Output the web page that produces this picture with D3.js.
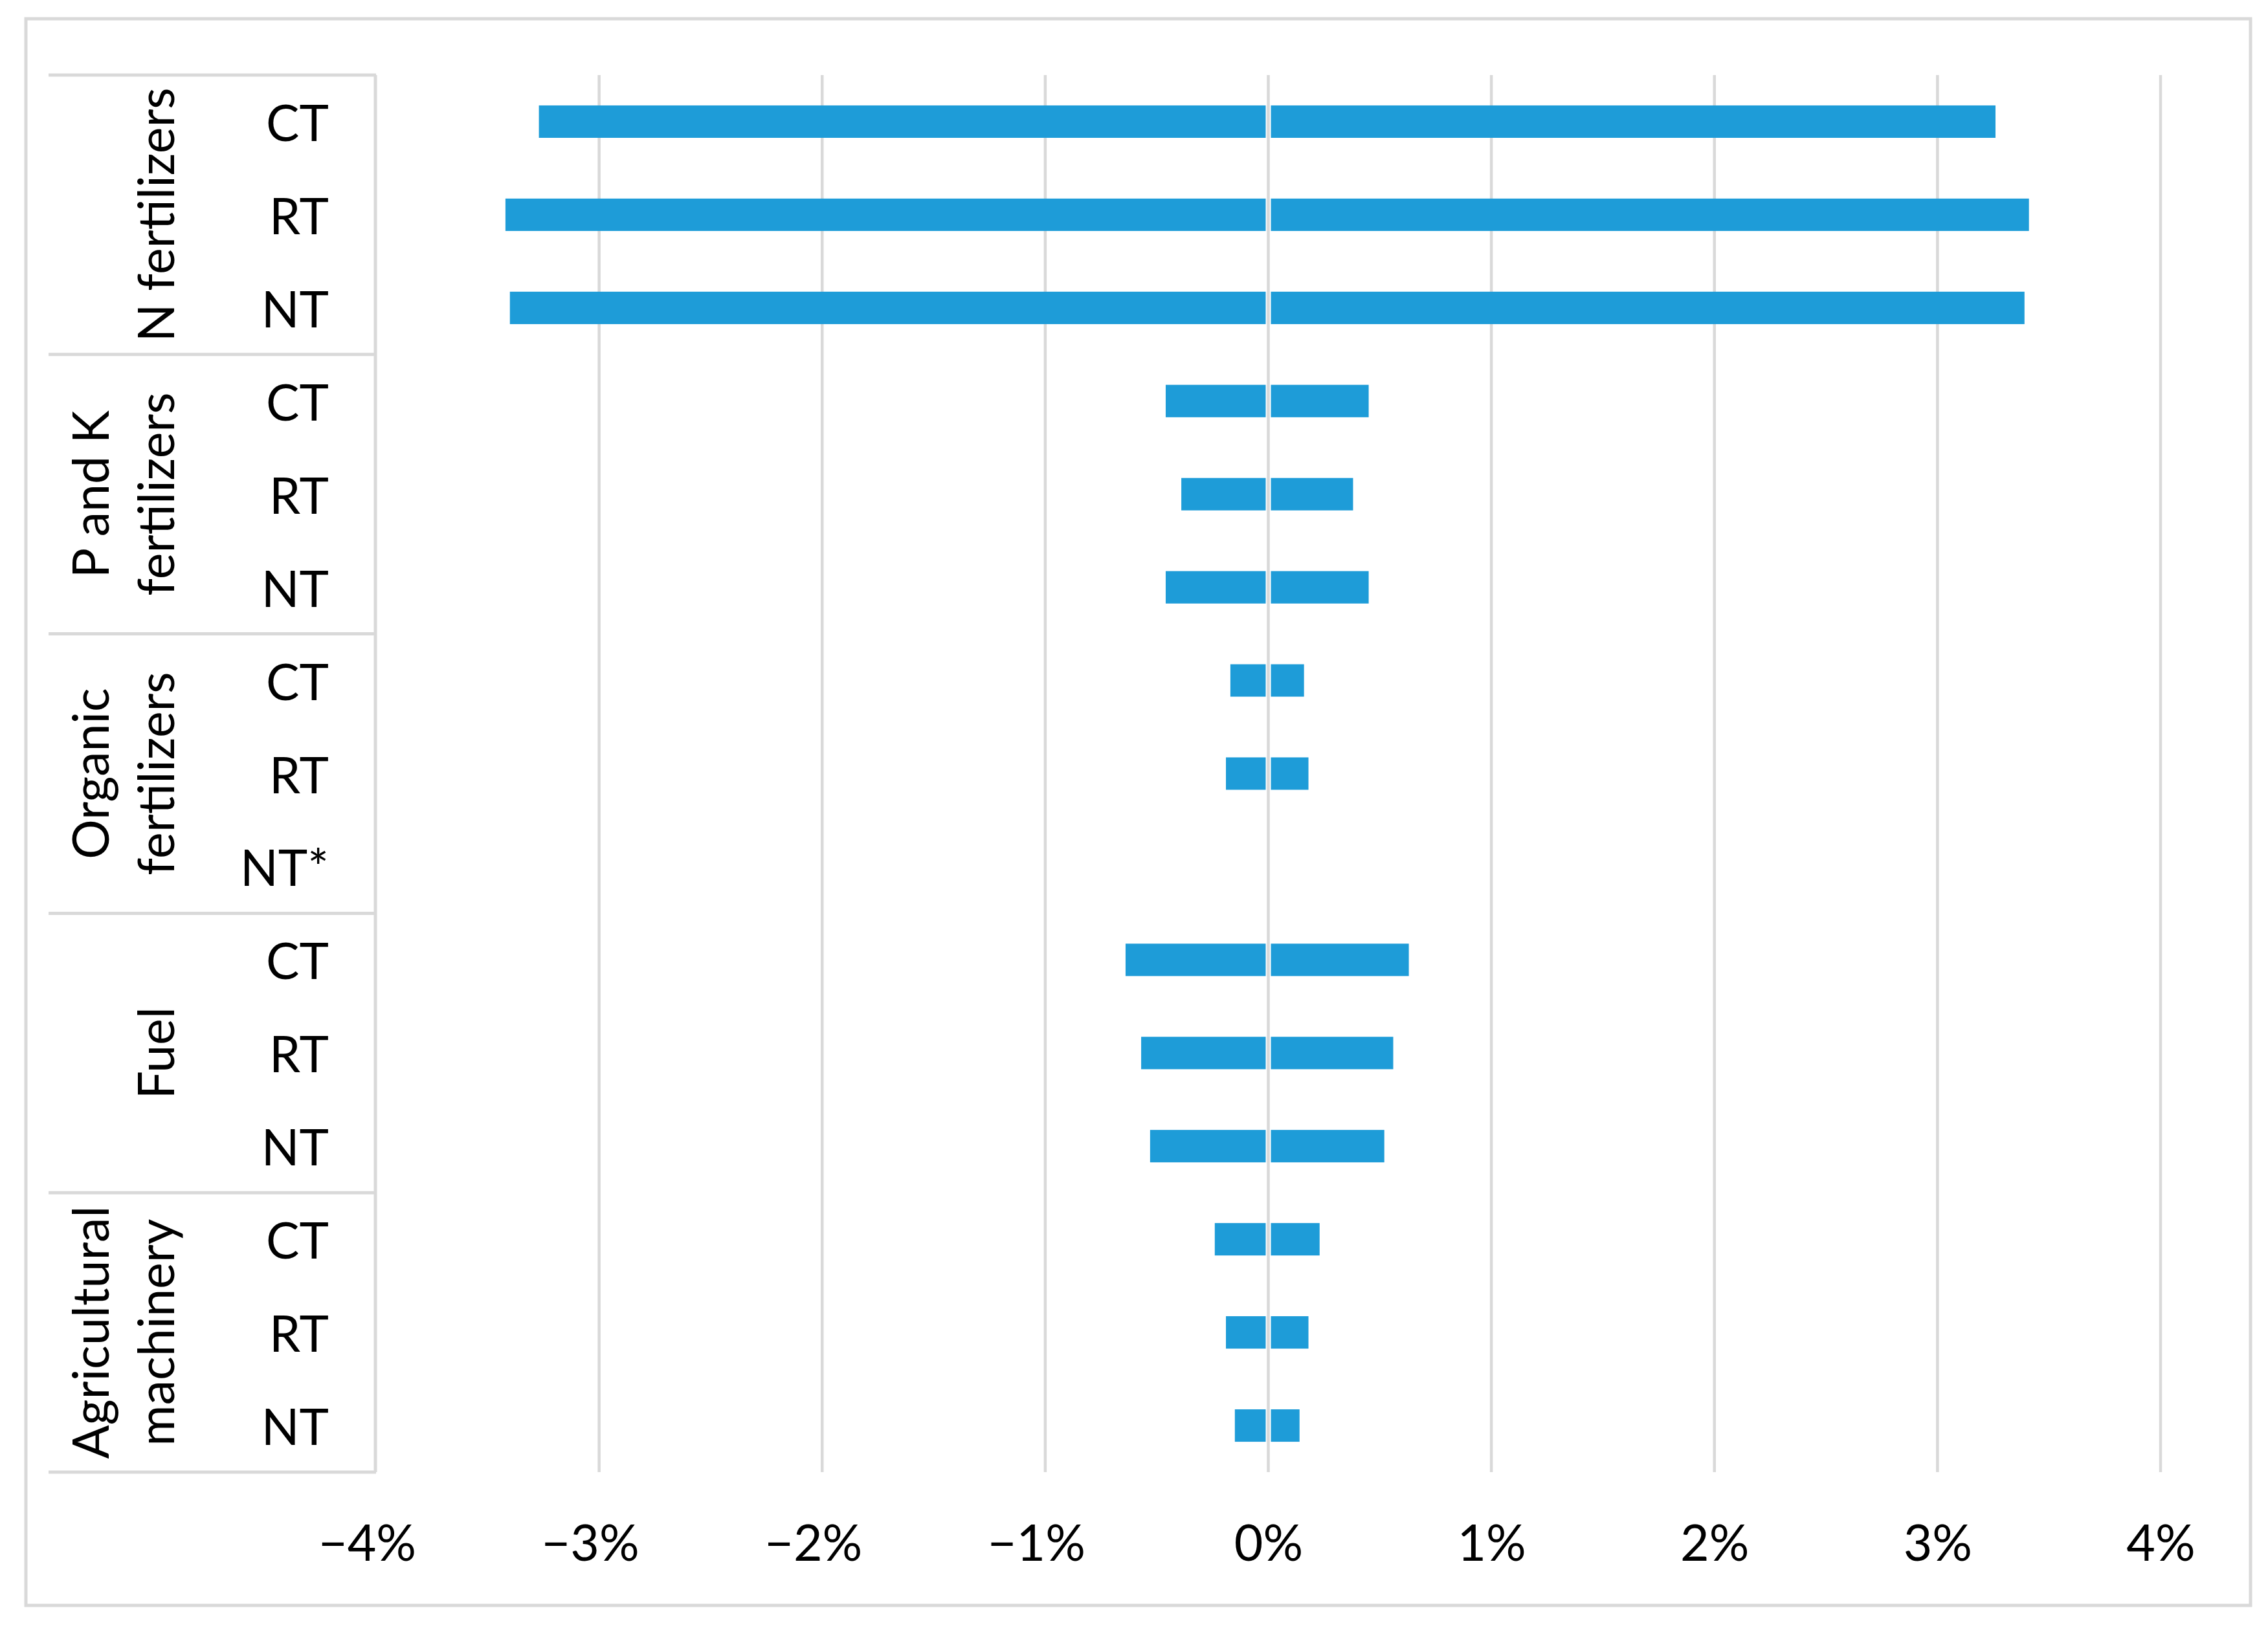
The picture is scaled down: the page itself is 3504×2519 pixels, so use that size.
<!DOCTYPE html>
<html>
<head>
<meta charset="utf-8">
<script src="https://cdn.jsdelivr.net/npm/d3@7"></script>
<style>
  body { margin: 0; background: #fff; }
  text { font-family: Lato, "Open Sans", sans-serif; fill: #000; }
</style>
</head>
<body>
<svg id="chart"></svg>
<script>
// category labels (split into lines as in the picture)
const groupLines = [
  ["N fertilizers"],
  ["P and K", "fertilizers"],
  ["Organic", "fertilizers"],
  ["Fuel"],
  ["Agricultural", "machinery"]
];
const systems = [
  ["CT", "RT", "NT"],
  ["CT", "RT", "NT"],
  ["CT", "RT", "NT*"],
  ["CT", "RT", "NT"],
  ["CT", "RT", "NT"]
];
// lower / upper change, % (null = no value)
const lowValues = [
  [-3.27, -3.42, -3.40],
  [-0.46, -0.39, -0.46],
  [-0.17, -0.19, null],
  [-0.64, -0.57, -0.53],
  [-0.24, -0.19, -0.15]
];
const highValues = [
  [3.26, 3.41, 3.39],
  [0.45, 0.38, 0.45],
  [0.16, 0.18, null],
  [0.63, 0.56, 0.52],
  [0.23, 0.18, 0.14]
];
const xTicks = [-4, -3, -2, -1, 0, 1, 2, 3, 4];

const W = 3504, H = 2519;
const plot = { left: 581, right: 3338, top: 116, bottom: 2275 };
const tableLeft = 75;
const grid = "#d9d9d9", barColor = "#1e9cd8";
const fontSize = 77;

const rows = [];
groupLines.forEach((g, gi) => {
  systems[gi].forEach((s, si) => {
    rows.push({ id: gi + "-" + si, group: gi, label: s, lo: lowValues[gi][si], hi: highValues[gi][si] });
  });
});

const svg = d3.select("#chart").attr("width", W).attr("height", H);

svg.append("rect")
  .attr("x", 40).attr("y", 29).attr("width", 3437).attr("height", 2452)
  .attr("fill", "#fff").attr("stroke", grid).attr("stroke-width", 5);

const x = d3.scaleLinear().domain([-4, 4]).range([plot.left, plot.right]);
const y = d3.scaleBand().domain(rows.map(d => d.id))
  .range([plot.top, plot.bottom]).paddingInner(0.652).paddingOuter(0.326);
const step = y.step();

// vertical gridlines (behind bars)
svg.append("g").selectAll("line").data(xTicks.filter(t => t !== -4))
  .join("line")
  .attr("x1", d => x(d)).attr("x2", d => x(d))
  .attr("y1", plot.top).attr("y2", plot.bottom)
  .attr("stroke", grid).attr("stroke-width", 4.5);

// bars: negative part and positive part
const valid = rows.filter(d => d.lo != null);
svg.append("g").selectAll("rect").data(valid)
  .join("rect")
  .attr("x", d => x(d.lo)).attr("width", d => x(0) - x(d.lo))
  .attr("y", d => y(d.id)).attr("height", y.bandwidth())
  .attr("fill", barColor);
svg.append("g").selectAll("rect").data(valid)
  .join("rect")
  .attr("x", x(0)).attr("width", d => x(d.hi) - x(0))
  .attr("y", d => y(d.id)).attr("height", y.bandwidth())
  .attr("fill", barColor);

// zero line drawn over the bars
svg.append("line")
  .attr("x1", x(0)).attr("x2", x(0)).attr("y1", plot.top).attr("y2", plot.bottom)
  .attr("stroke", "#fff").attr("stroke-width", 8);
svg.append("line")
  .attr("x1", x(0)).attr("x2", x(0)).attr("y1", plot.top).attr("y2", plot.bottom)
  .attr("stroke", grid).attr("stroke-width", 4.5);

// x axis labels
const xAxis = d3.axisBottom(x).tickValues(xTicks).tickSize(0).tickPadding(0)
  .tickFormat(d => (d < 0 ? "\u2212" + Math.abs(d) : d) + "%");
const ax = svg.append("g").attr("transform", `translate(0, ${2412})`).call(xAxis);
ax.select(".domain").remove();
ax.selectAll("text").attr("y", 0).attr("dy", null)
  .attr("dx", d => d < 0 ? -14 : 0)
  .attr("font-size", fontSize).attr("font-family", "Lato, sans-serif");

// category table lines
const groupEdges = [plot.top];
groupLines.forEach((g, gi) => groupEdges.push(plot.top + step * 3 * (gi + 1)));
const tbl = svg.append("g").attr("stroke", grid).attr("stroke-width", 5);
groupEdges.forEach(e => {
  tbl.append("line").attr("x1", tableLeft).attr("x2", plot.left).attr("y1", e).attr("y2", e);
});
tbl.append("line").attr("x1", plot.left - 1).attr("x2", plot.left - 1)
  .attr("y1", plot.top).attr("y2", plot.bottom);

// system labels
svg.append("g").selectAll("text").data(rows)
  .join("text")
  .attr("x", 508).attr("y", d => y(d.id) + y.bandwidth() / 2 + 30)
  .attr("text-anchor", "end").attr("font-size", fontSize)
  .text(d => d.label);

// group labels, rotated
groupLines.forEach((lines, gi) => {
  const cy = (groupEdges[gi] + groupEdges[gi + 1]) / 2;
  lines.forEach((ln, li) => {
    const bx = 269 - (lines.length - 1 - li) * 101;
    svg.append("text")
      .attr("transform", `translate(${bx}, ${cy}) rotate(-90)`)
      .attr("text-anchor", "middle").attr("font-size", fontSize)
      .text(ln);
  });
});
</script>
</body>
</html>
